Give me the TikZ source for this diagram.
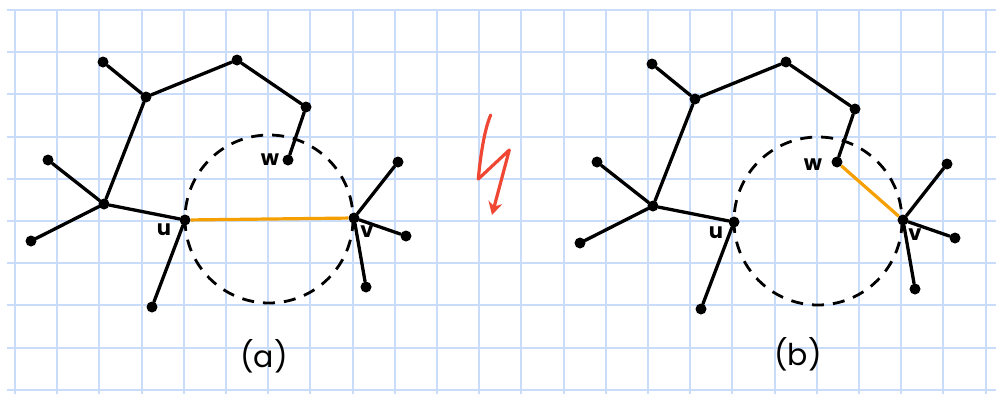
\documentclass[tikz,border=0pt]{standalone}
\usepackage{fontspec}
\setmainfont{Poppins}
\usetikzlibrary{arrows.meta}
\definecolor{gridblue}{HTML}{C9DDFA}
\definecolor{edgeorange}{HTML}{F5A000}
\definecolor{boltred}{HTML}{EF4733}
\tikzset{
  vdot/.style={circle, fill=black, inner sep=0pt, minimum size=11pt},
  edge/.style={line width=3.3pt, line cap=round},
  hot/.style={line width=3.2pt, draw=edgeorange},
  ring/.style={line width=2.8pt, dash pattern=on 12pt off 9pt},
  lbl/.style={font=\fontsize{21}{24}\selectfont\bfseries, inner sep=0pt},
  captxt/.style={font=\fontsize{30}{34}\selectfont, inner sep=0pt},
}
\newcommand{\drawgraph}[1]{%
  \node[vdot] (#1A) at (103,62) {};
  \node[vdot] (#1B) at (146,97) {};
  \node[vdot] (#1C) at (237,60) {};
  \node[vdot] (#1D) at (306,107) {};
  \node[vdot] (#1w) at (288,160) {};
  \node[vdot] (#1E) at (104,204) {};
  \node[vdot] (#1F) at (48,160) {};
  \node[vdot] (#1G) at (31,241) {};
  \node[vdot] (#1u) at (185,220) {};
  \node[vdot] (#1H) at (152,307) {};
  \node[vdot] (#1v) at (354,218) {};
  \node[vdot] (#1I) at (398,162) {};
  \node[vdot] (#1J) at (406,236) {};
  \node[vdot] (#1K) at (366,287) {};
  \coordinate (#1O) at (269,219);
  \draw[ring] (#1O) circle[radius=84];
  \draw[edge] (#1A) -- (#1B) -- (#1C) -- (#1D) -- (#1w);
  \draw[edge] (#1B) -- (#1E);
  \draw[edge] (#1F) -- (#1E) -- (#1G);
  \draw[edge] (#1E) -- (#1u) -- (#1H);
  \draw[edge] (#1v) -- (#1I);
  \draw[edge] (#1v) -- (#1J);
  \draw[edge] (#1v) -- (#1K);
}
\begin{document}
\begin{tikzpicture}[x=1pt,y=-1pt]
\useasboundingbox (0,0) rectangle (996,394);
\fill[white] (0,0) rectangle (996,394);
% grid
\foreach \k in {0,...,23} {
  \draw[gridblue, line width=2pt] ({15+42.2*\k},10) -- ({15+42.2*\k},394);
}
\foreach \k in {0,...,9} {
  \draw[gridblue, line width=2pt] (7,{10+42.2*\k}) -- (996,{10+42.2*\k});
}
% graph (a)
\begin{scope}
  \drawgraph{a}
  \draw[hot] (au) -- (av);
  \node[lbl] (alu) at (164,230) {u};
  \node[lbl] (alv) at (367,232) {v};
  \node[lbl] (alw) at (270,160) {w};
  \node[captxt] (capa) at (264,356) {(a)};
\end{scope}
% graph (b)
\begin{scope}[shift={(549,2)}]
  \drawgraph{b}
  \draw[hot] (bw) -- (bv);
  \node[lbl] (blu) at (167,231) {u};
  \node[lbl] (blv) at (366,233) {v};
  \node[lbl] (blw) at (264,163) {w};
  \node[captxt] (capb) at (249,352) {(b)};
\end{scope}
% contradiction bolt
\coordinate (z1) at (490.7,115);
\coordinate (z2) at (478.3,179);
\coordinate (z3) at (509.3,150);
\coordinate (z4) at (492,215);
\draw[boltred, line width=3.2pt, line join=round, line cap=round, -{Stealth[length=13pt,width=14pt]}]
  (z1) .. controls (484,130) and (480,160) .. (z2) -- (z3) -- (z4);
\end{tikzpicture}
\end{document}
